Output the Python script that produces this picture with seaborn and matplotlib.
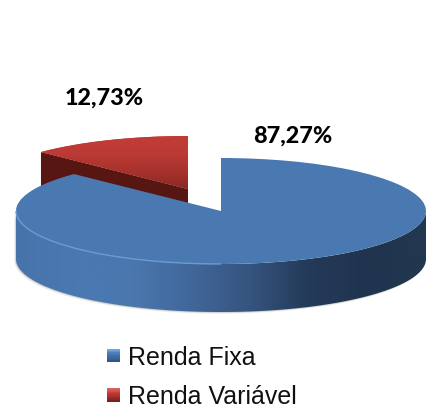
import numpy as np
import seaborn as sns
import matplotlib
matplotlib.use("Agg")
import matplotlib.pyplot as plt
from matplotlib.legend_handler import HandlerBase
from matplotlib.patches import Patch, Polygon, Rectangle
from matplotlib.transforms import Affine2D

categories = ["Renda Fixa", "Renda Variável"]
shares = [87.27, 12.73]
share_labels = ["87,27%", "12,73%"]

sns.set_theme(style="white")
plt.rcParams["font.family"] = ["Liberation Sans", "DejaVu Sans"]

# layout in pixels of the 426x409 picture, y going up
W, H = 426, 409
rx, ry, depth = 205, 53, 48
blue_c = (221, H - 211)
red_c = (188, H - 189)

blue_top = "#4a78b0"
red_top = "#bb3a35"
red_side = "#571612"

side_cmap = sns.blend_palette(["#4673aa", "#4a79b2", "#4a77ae", "#41679a", "#35547e", "#233a58", "#20344f", "#22374f"], n_colors=256, as_cmap=True)
red_cmap = sns.blend_palette(["#8a2824", "#a8322d", "#bb3a35", "#c13c37"], n_colors=256, as_cmap=True)


# legend squares with a small vertical gradient
class GradientSquare(HandlerBase):
    def __init__(self, colors):
        super().__init__()
        self.colors = colors

    def create_artists(self, legend, orig_handle, xd, yd, width, height, fontsize, trans):
        size = 13.0 * 72 / 100
        x0, y0 = -xd, -yd + (height - size) / 2 + 0.5
        cols = sns.blend_palette(self.colors, n_colors=8)
        strips = []
        for i, c in enumerate(cols):
            strips.append(Rectangle((x0, y0 + size * (1 - (i + 1) / 8)), size, size / 8 + 0.1,
                                    facecolor=c, edgecolor="none", transform=trans))
        return strips


def arc(center, a0, a1, n=200, drop=0):
    t = np.radians(np.linspace(a0, a1, n))
    return np.c_[center[0] + rx * np.cos(t), center[1] + ry * np.sin(t) - drop]


fig = plt.figure(figsize=(W / 100, H / 100), dpi=100)
ax = fig.add_axes([0, 0, 1, 1])

wedges, _ = ax.pie(shares, startangle=90, counterclock=False, colors=[blue_top, red_top],
                   wedgeprops={"edgecolor": "none", "linewidth": 0})
ax.set_aspect("auto")

# top faces: unit pie squashed and moved to its place
wedges[0].set_transform(Affine2D().scale(rx, ry).translate(*blue_c) + ax.transData)
wedges[1].set_transform(Affine2D().scale(rx, ry).translate(*red_c) + ax.transData)
wedges[0].set_zorder(6)
wedges[1].set_zorder(3)

# red gradient on the top face
im = ax.imshow(np.linspace(1, 0, 64).reshape(-1, 1), cmap=red_cmap, aspect="auto", zorder=3.1,
               extent=(red_c[0] - rx, red_c[0] + 10, red_c[1], red_c[1] + ry))
red_clip = Polygon(np.vstack([arc(red_c, 90, 90 + 3.6 * shares[1]), [red_c]]), transform=ax.transData)
im.set_clip_path(red_clip)

# red cut face, the blue slice hides its lower part
corner = arc(red_c, 90 + 3.6 * shares[1], 90 + 3.6 * shares[1], n=1)[0]
ax.add_patch(Polygon([corner, red_c, (red_c[0], red_c[1] - depth), (corner[0], corner[1] - depth)],
                     facecolor=red_side, edgecolor="none", zorder=2))

# soft shadow under the blue wall
front = arc(blue_c, 180, 360)
wall = np.vstack([front, arc(blue_c, 360, 180, drop=depth)])
for k, a in zip([3, 2, 1], [0.06, 0.10, 0.16]):
    shadow = wall + [-k * 0.6, -k * 0.6]
    ax.add_patch(Polygon(shadow, facecolor="#555047", edgecolor="none", alpha=a, zorder=4))

# blue wall
im2 = ax.imshow(np.linspace(0, 1, 256).reshape(1, -1), cmap=side_cmap, aspect="auto", zorder=5,
                extent=(blue_c[0] - rx, blue_c[0] + rx, blue_c[1] - ry - depth, blue_c[1] + 5))
im2.set_clip_path(Polygon(wall, transform=ax.transData))

# light rim on the left part of the front edge
ax.plot(*arc(blue_c, 180, 270).T, color="#6a9ad6", lw=1.0, zorder=7, solid_capstyle="butt")

ax.set_xlim(0, W)
ax.set_ylim(0, H)
ax.axis("off")

ax.text(293, H - 136, share_labels[0], ha="center", va="center", fontsize=16.8, fontweight="black",
        family=["Lato", "DejaVu Sans"], color="black", zorder=8)
ax.text(104, H - 98, share_labels[1], ha="center", va="center", fontsize=16.8, fontweight="black",
        family=["Lato", "DejaVu Sans"], color="black", zorder=8)

h_blue = Patch(facecolor=blue_top)
h_red = Patch(facecolor=red_top)
leg = ax.legend([h_blue, h_red], categories, loc="upper left", bbox_to_anchor=(107, H - 346),
                bbox_transform=ax.transData, frameon=False, prop={"size": 18}, borderpad=0,
                borderaxespad=0, handlelength=0.55, handleheight=0.7, handletextpad=0.3, labelspacing=0.62,
                handler_map={h_blue: GradientSquare(["#6fa3dc", "#4a7ab4", "#3f6a9f", "#2f5788"]),
                             h_red: GradientSquare(["#d9605a", "#c23c37", "#a32c28", "#7d1f1c"])})
for t in leg.get_texts():
    t.set_color("#111111")

fig.savefig("out.png", dpi=100)
